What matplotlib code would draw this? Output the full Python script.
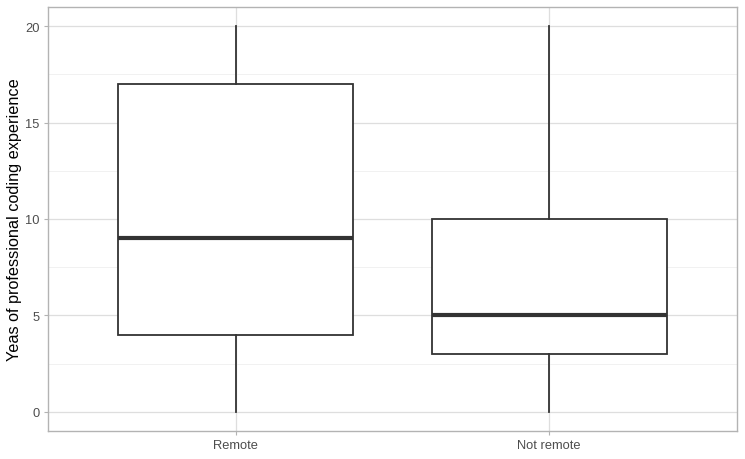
import matplotlib.pyplot as plt
import numpy as np

plt.rcParams['font.family'] = ['Liberation Sans', 'DejaVu Sans']

groups = ['Remote', 'Not remote']
whisker_low = [0, 0]
q1 = [4, 3]
medians = [9, 5]
q3 = [17, 10]
whisker_high = [20, 20]

stats = []
for i, g in enumerate(groups):
    stats.append({
        'label': g,
        'whislo': whisker_low[i],
        'q1': q1[i],
        'med': medians[i],
        'q3': q3[i],
        'whishi': whisker_high[i],
        'fliers': [],
    })

fig = plt.figure(figsize=(7.45, 4.6), dpi=100)
ax = fig.add_axes([48 / 745, 28 / 460, 689 / 745, 424 / 460])

pos = np.arange(1, len(groups) + 1)
ax.bxp(stats, positions=pos, widths=0.75, showcaps=False, patch_artist=True,
       boxprops=dict(facecolor='white', edgecolor='#333333', linewidth=1.3),
       whiskerprops=dict(color='#333333', linewidth=1.3),
       medianprops=dict(color='#333333', linewidth=3),
       zorder=3)

ax.set_xlim(0.4, 2.6)
ax.set_ylim(-1, 21)
ax.set_yticks([0, 5, 10, 15, 20])
ax.set_yticks([2.5, 7.5, 12.5, 17.5], minor=True)
ax.set_xticks(pos)
ax.set_xticklabels(groups)

ax.grid(which='major', color='#DEDEDE', linewidth=0.9, zorder=0)
ax.grid(which='minor', axis='y', color='#EFEFEF', linewidth=0.6, zorder=0)
ax.set_axisbelow(True)

for s in ax.spines.values():
    s.set_color('#B3B3B3')
    s.set_linewidth(1)

ax.tick_params(which='major', length=3, width=0.8, color='#B3B3B3',
               labelcolor='#4D4D4D', labelsize=9.3, pad=3)
ax.tick_params(which='minor', length=0)

ax.set_ylabel('Yeas of professional coding experience', fontsize=11.7,
              color='black', labelpad=2)

fig.savefig('out.png', dpi=100)
